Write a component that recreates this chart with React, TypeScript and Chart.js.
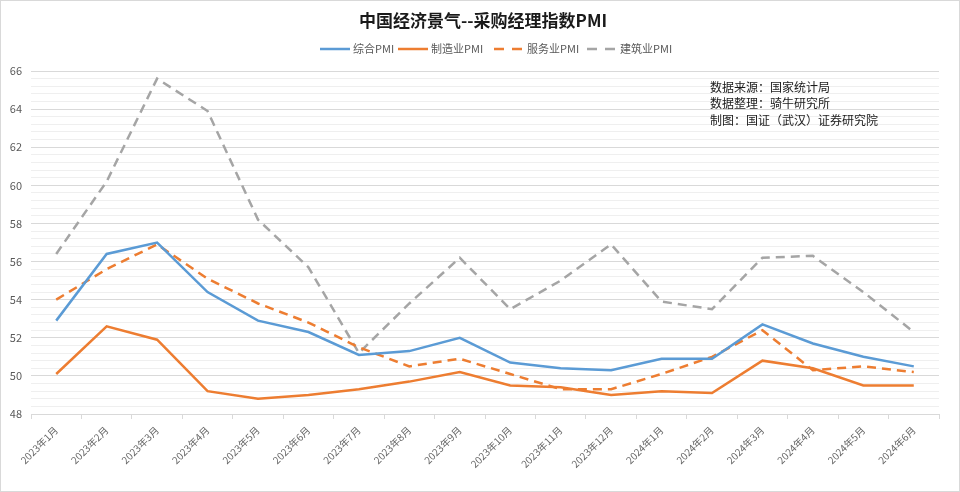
import React, { useEffect, useRef } from "react";
import { Chart, registerables } from "chart.js";

Chart.register(...registerables);

const categories = [
  "2023年1月", "2023年2月", "2023年3月", "2023年4月", "2023年5月", "2023年6月",
  "2023年7月", "2023年8月", "2023年9月", "2023年10月", "2023年11月", "2023年12月",
  "2024年1月", "2024年2月", "2024年3月", "2024年4月", "2024年5月", "2024年6月",
];
const compositePMI = [52.9, 56.4, 57.0, 54.4, 52.9, 52.3, 51.1, 51.3, 52.0, 50.7, 50.4, 50.3, 50.9, 50.9, 52.7, 51.7, 51.0, 50.5];
const manufacturingPMI = [50.1, 52.6, 51.9, 49.2, 48.8, 49.0, 49.3, 49.7, 50.2, 49.5, 49.4, 49.0, 49.2, 49.1, 50.8, 50.4, 49.5, 49.5];
const servicesPMI = [54.0, 55.6, 56.9, 55.1, 53.8, 52.8, 51.5, 50.5, 50.9, 50.1, 49.3, 49.3, 50.1, 51.0, 52.4, 50.3, 50.5, 50.2];
const constructionPMI = [56.4, 60.2, 65.6, 63.9, 58.2, 55.7, 51.2, 53.8, 56.2, 53.5, 55.0, 56.9, 53.9, 53.5, 56.2, 56.3, 54.4, 52.3];

const seriesNames = ["综合PMI", "制造业PMI", "服务业PMI", "建筑业PMI"];
const titleText = "中国经济景气--采购经理指数PMI";
const noteLines = ["数据来源：国家统计局", "数据整理：骑牛研究所", "制图：国证（武汉）证券研究院"];

const BLUE = "#5B9BD5";
const ORANGE = "#ED7D31";
const GRAY = "#A5A5A5";
const FONT = "'Noto Sans CJK SC', 'Noto Sans', sans-serif";
const DASH = [9, 6];

const decorPlugin = {
  id: "decor",
  beforeDraw(chart: any) {
    const c = chart.ctx;
    c.save();
    c.fillStyle = "#ffffff";
    c.fillRect(0, 0, chart.width, chart.height);
    c.restore();
  },
  afterDraw(chart: any) {
    const c = chart.ctx;
    c.save();
    c.strokeStyle = "#d9d9d9";
    c.lineWidth = 1;
    c.strokeRect(0.5, 0.5, chart.width - 1, chart.height - 1);
    c.fillStyle = "#1a1a1a";
    c.font = `bold 17px ${FONT}`;
    c.textAlign = "center";
    c.textBaseline = "middle";
    c.fillText(titleText, 483, 21);
    const styles = [
      { color: BLUE, dash: [] as number[] },
      { color: ORANGE, dash: [] as number[] },
      { color: ORANGE, dash: [10, 8] },
      { color: GRAY, dash: [10, 8] },
    ];
    const xs = [320, 398, 494, 587];
    const ly = 49;
    c.font = `11px ${FONT}`;
    c.textAlign = "left";
    c.textBaseline = "middle";
    styles.forEach((s, i) => {
      c.beginPath();
      c.strokeStyle = s.color;
      c.lineWidth = 2.5;
      c.setLineDash(s.dash);
      c.moveTo(xs[i], ly);
      c.lineTo(xs[i] + 30, ly);
      c.stroke();
      c.setLineDash([]);
      c.fillStyle = "#595959";
      c.fillText(seriesNames[i], xs[i] + 33, ly);
    });
    c.font = `12px ${FONT}`;
    c.fillStyle = "#1a1a1a";
    noteLines.forEach((t, i) => {
      c.fillText(t, 710, 87 + i * 16.5);
    });
    c.restore();
  },
};

export default function App() {
  const ref = useRef<HTMLCanvasElement | null>(null);
  useEffect(() => {
    if (!ref.current) return;
    const isMajor = (v: number) => {
      const r = Math.round(v);
      return Math.abs(v - r) < 1e-6 && r % 2 === 0;
    };
    const chart = new Chart(ref.current, {
      type: "line",
      data: {
        labels: categories,
        datasets: [
          { label: seriesNames[0], data: compositePMI, borderColor: BLUE, backgroundColor: BLUE, borderWidth: 2.5, pointRadius: 0, tension: 0 },
          { label: seriesNames[1], data: manufacturingPMI, borderColor: ORANGE, backgroundColor: ORANGE, borderWidth: 2.5, pointRadius: 0, tension: 0 },
          { label: seriesNames[2], data: servicesPMI, borderColor: ORANGE, backgroundColor: ORANGE, borderWidth: 2.5, borderDash: DASH, pointRadius: 0, tension: 0 },
          { label: seriesNames[3], data: constructionPMI, borderColor: GRAY, backgroundColor: GRAY, borderWidth: 2.5, borderDash: DASH, pointRadius: 0, tension: 0 },
        ],
      },
      options: {
        responsive: false,
        animation: false,
        layout: { padding: { top: 71, right: 21, left: 0, bottom: 0 } },
        plugins: { legend: { display: false }, title: { display: false }, tooltip: { enabled: false } },
        scales: {
          x: {
            offset: true,
            grid: { display: true, drawOnChartArea: false, drawTicks: true, tickLength: 5, color: "#d9d9d9", offset: true },
            border: { display: true, color: "#d9d9d9" },
            ticks: { autoSkip: false, maxRotation: 45, minRotation: 45, color: "#666666", font: { size: 10, family: FONT }, padding: 5 },
            afterFit(scale: any) { scale.height = 78; },
          },
          y: {
            min: 48,
            max: 66,
            border: { display: false },
            grid: {
              drawTicks: false,
              lineWidth: 1,
              color: (ctx: any) => (ctx.tick && isMajor(ctx.tick.value) ? "#d9d9d9" : "#efefef"),
            },
            ticks: {
              stepSize: 0.4,
              autoSkip: false,
              color: "#595959",
              font: { size: 11, family: FONT },
              padding: 9,
              callback: (v: any) => (isMajor(Number(v)) ? String(Math.round(Number(v))) : ""),
            },
            afterFit(scale: any) { scale.width = 31; },
          },
        },
      },
      plugins: [decorPlugin],
    } as any);
    return () => chart.destroy();
  }, []);
  return (
    <div style={{ position: "fixed", left: 0, top: 0, width: 960, height: 492, background: "#fff" }}>
      <canvas ref={ref} width={960} height={492} style={{ display: "block", width: 960, height: 492 }} />
    </div>
  );
}
